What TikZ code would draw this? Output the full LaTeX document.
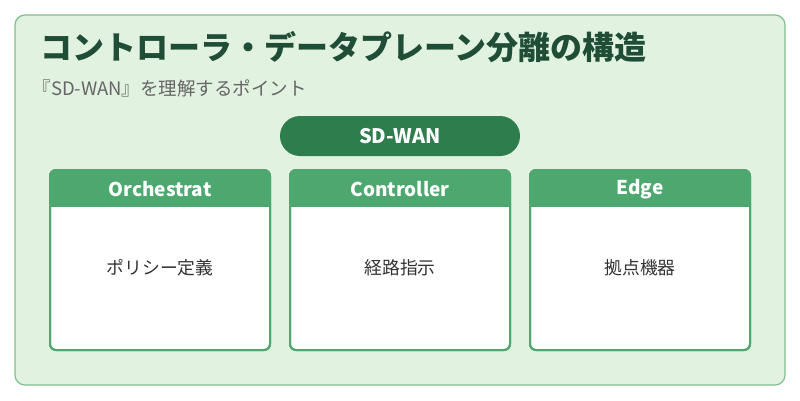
\documentclass[tikz,border=0pt]{standalone}
\usepackage{fontspec}
\setmainfont{Noto Sans CJK JP}
\definecolor{bgg}{HTML}{E1F2E0}
\definecolor{bord}{HTML}{7FBF8C}
\definecolor{dark}{HTML}{1F4D36}
\definecolor{pill}{HTML}{2E7D4C}
\definecolor{head}{HTML}{4DA870}
\tikzset{x=1pt,y=-1pt,
 card/.style={draw=head,line width=2pt,fill=white,rounded corners=6pt},
 htxt/.style={text=white,font=\bfseries\fontsize{19}{22}\selectfont},
 btxt/.style={text=black!80,font=\fontsize{17.8}{20}\selectfont}}
\begin{document}
\begin{tikzpicture}
\useasboundingbox (0,0) rectangle (800,400);
\draw[draw=bord,fill=bgg,line width=1.2pt,rounded corners=10pt] (15,15) rectangle (785,385);
\node[anchor=west,text=dark,font=\bfseries\fontsize{32}{36}\selectfont] (title) at (37,47) {コントローラ・データプレーン分離の構造};
\node[anchor=west,text=black!60,font=\fontsize{18.5}{21}\selectfont] (sub) at (29,88) {『SD-WAN』を理解するポイント};
\fill[pill,rounded corners=20pt] (280,116) rectangle (520,156);
\node[htxt,font=\bfseries\fontsize{20}{23}\selectfont] (sd) at (400,136) {SD-WAN};
\foreach \x/\h/\b/\n in {50/Orchestrat/ポリシー定義/a,290/Controller/経路指示/b,530/Edge/拠点機器/c}{
 \draw[card] (\x,170) rectangle (\x+220,350);
 \begin{scope}
 \clip[rounded corners=6pt] (\x,170) rectangle (\x+220,350);
 \fill[head] (\x,170) rectangle (\x+220,207);
 \end{scope}
 \draw[card,fill=none] (\x,170) rectangle (\x+220,350);
 \node[htxt] (h\n) at (\x+110,189) {\h};
 \node[btxt] (b\n) at (\x+110,268) {\b};
}
\end{tikzpicture}
\end{document}
